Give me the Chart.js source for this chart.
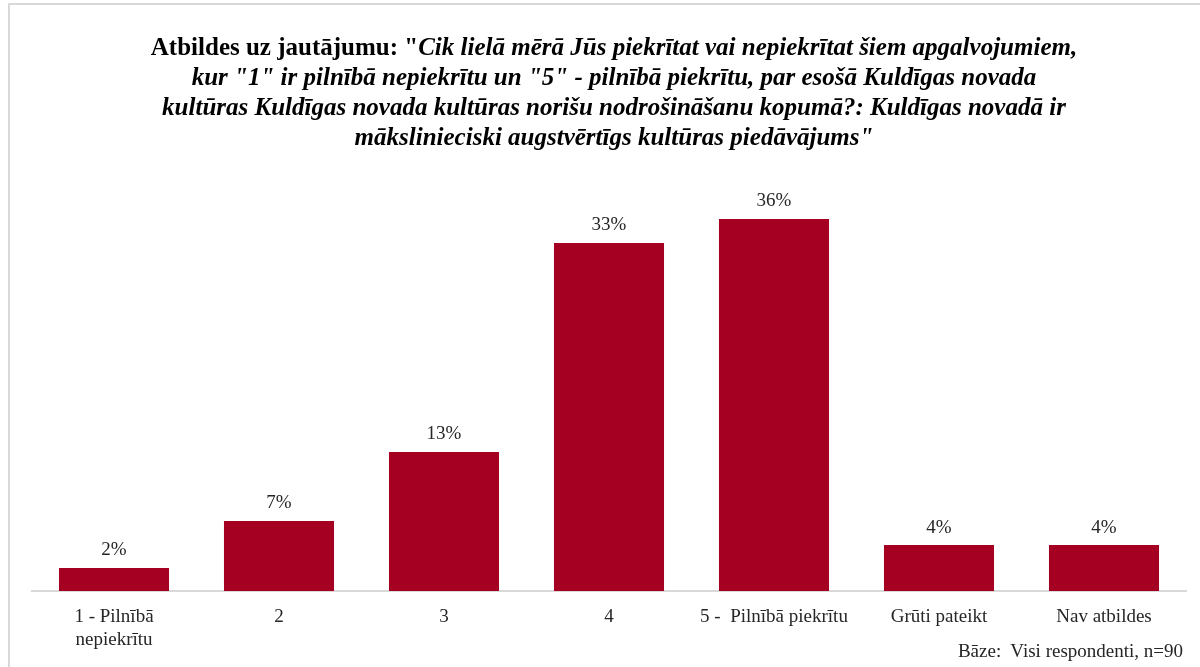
<!DOCTYPE html>
<html>
<head>
<meta charset="utf-8">
<script src="https://cdn.jsdelivr.net/npm/chart.js@4"></script>
<style>
  html, body { margin: 0; padding: 0; background: #fff; width: 1200px; height: 667px; overflow: hidden; }
  #frame { position: absolute; left: 8px; top: 3px; width: 1212px; height: 700px; border-left: 2px solid #d9d9d9; border-top: 2px solid #d9d9d9; box-sizing: border-box; }
  #title { position: absolute; left: 8px; width: 1212px; top: 32px; text-align: center; font-family: "Liberation Serif", "Times New Roman", serif; font-size: 25px; font-weight: bold; line-height: 30px; color: #000; }
  #title i { font-style: italic; }
  #footer { position: absolute; right: 17px; top: 640px; font-family: "Liberation Serif", "Times New Roman", serif; font-size: 19px; color: #262626; white-space: pre; }
  #wrap { position: absolute; left: 0; top: 0; width: 1200px; height: 667px; }
</style>
</head>
<body>
<div id="frame"></div>
<div id="wrap"><canvas id="c" width="1200" height="667"></canvas></div>
<div id="title">Atbildes uz jautājumu: "<i>Cik lielā mērā Jūs piekrītat vai nepiekrītat šiem apgalvojumiem,<br>kur "1" ir pilnībā nepiekrītu un "5" - pilnībā piekrītu, par esošā Kuldīgas novada<br>kultūras Kuldīgas novada kultūras norišu nodrošināšanu kopumā?: Kuldīgas novadā ir<br>mākslinieciski augstvērtīgs kultūras piedāvājums"</i></div>
<div id="footer">Bāze:  Visi respondenti, n=90</div>
<script>
const categories = [["1 - Pilnībā", "nepiekrītu"], "2", "3", "4", "5 -  Pilnībā piekrītu", "Grūti pateikt", "Nav atbildes"];
const values = [2.2, 6.7, 13.3, 33.3, 35.6, 4.4, 4.4];
const valueLabels = ["2%", "7%", "13%", "33%", "36%", "4%", "4%"];

const serif = '"Liberation Serif", "Times New Roman", serif';

const dataLabelPlugin = {
  id: 'dataLabels',
  afterDatasetsDraw(chart) {
    const ctx = chart.ctx;
    const meta = chart.getDatasetMeta(0);
    ctx.save();
    ctx.font = '19px ' + serif;
    ctx.fillStyle = '#262626';
    ctx.textAlign = 'center';
    ctx.textBaseline = 'bottom';
    meta.data.forEach((bar, i) => {
      ctx.fillText(valueLabels[i], bar.x, bar.y - 8);
    });
    ctx.restore();
  }
};

new Chart(document.getElementById('c'), {
  type: 'bar',
  data: {
    labels: categories,
    datasets: [{
      data: values,
      backgroundColor: '#A50021',
      borderWidth: 0,
      barPercentage: 0.667,
      categoryPercentage: 1.0
    }]
  },
  options: {
    responsive: false,
    animation: false,
    devicePixelRatio: 1,
    layout: { padding: { left: 31.5, right: 13.5, top: 173, bottom: 0 } },
    plugins: { legend: { display: false }, tooltip: { enabled: false }, title: { display: false } },
    scales: {
      x: {
        grid: { display: false, drawTicks: false },
        border: { display: true, color: '#d9d9d9', width: 2 },
        ticks: { color: '#262626', font: { family: serif, size: 19, lineHeight: 1.21 }, padding: 15, maxRotation: 0, autoSkip: false },
        afterFit(scale) { scale.height = 76; }
      },
      y: {
        display: false,
        min: 0,
        max: 40
      }
    }
  },
  plugins: [dataLabelPlugin]
});
</script>
</body>
</html>
